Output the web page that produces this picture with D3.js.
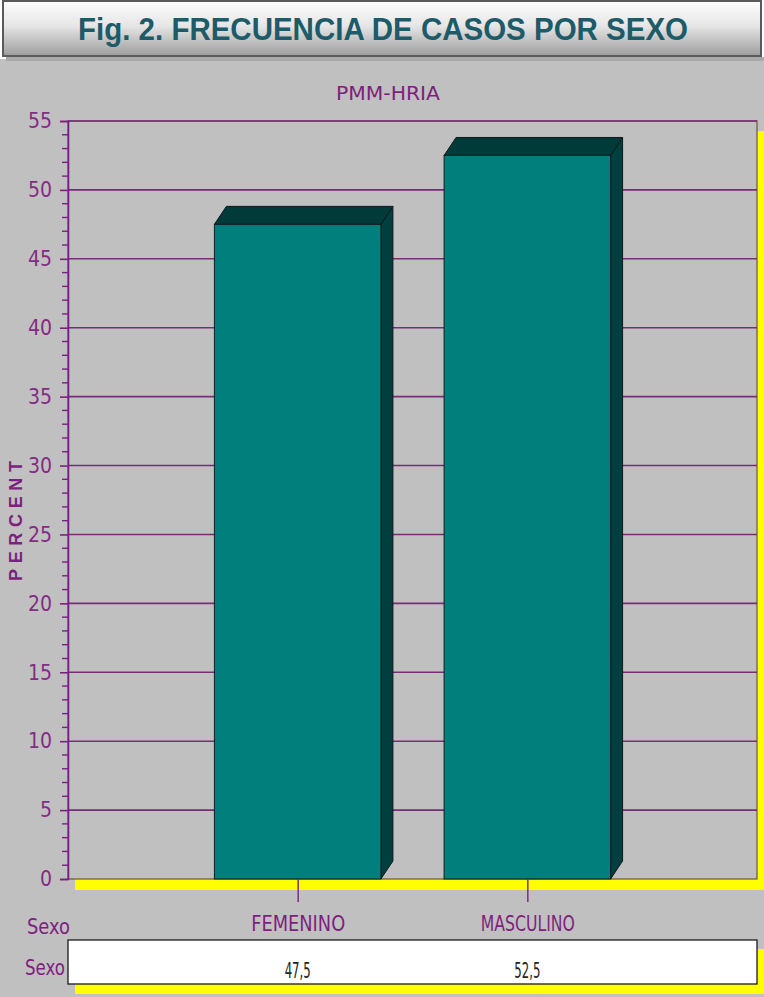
<!DOCTYPE html>
<html>
<head>
<meta charset="utf-8">
<script src="https://cdn.jsdelivr.net/npm/d3@7"></script>
<style>
  html, body { margin: 0; padding: 0; background: #ffffff; }
  svg { display: block; }
</style>
</head>
<body>
<div id="chart"></div>
<script>
// Frequency of cases by sex (percent)
const categories = ["FEMENINO", "MASCULINO"];
const percent = [47.5, 52.5];
const yTickValues = [0, 5, 10, 15, 20, 25, 30, 35, 40, 45, 50, 55];
const titleText = "Fig. 2. FRECUENCIA DE CASOS POR SEXO";
const subtitleText = "PMM-HRIA";
const yAxisTitle = "PERCENT";
const rowLabel = "Sexo";

const W = 764, H = 997;
const plot = { left: 68, right: 757, top: 121, bottom: 879 };
const depth = { dx: 12, dy: -18 };
const purple = "#7e1f7e";
const gridColor = "#762e76";
const yellow = "#ffff00";
const chartFont = "'DejaVu Sans', 'Liberation Sans', sans-serif";

const svg = d3.select("#chart").append("svg")
  .attr("width", W).attr("height", H);

// Header box with vertical gradient
const defs = svg.append("defs");
const grad = defs.append("linearGradient").attr("id", "hdr")
  .attr("x1", 0).attr("y1", 0).attr("x2", 0).attr("y2", 1);
grad.append("stop").attr("offset", "0%").attr("stop-color", "#fdfdfd");
grad.append("stop").attr("offset", "45%").attr("stop-color", "#e6e6e6");
grad.append("stop").attr("offset", "100%").attr("stop-color", "#9c9c9c");

// chart panel background
svg.append("rect").attr("x", 0).attr("y", 59).attr("width", W).attr("height", H - 59)
  .attr("fill", "#c0c0c0");
svg.append("rect").attr("x", 6).attr("y", 57).attr("width", W - 6).attr("height", 4)
  .attr("fill", "#a9a9a9");

svg.append("rect").attr("x", 3).attr("y", 1).attr("width", 758).attr("height", 55)
  .attr("fill", "url(#hdr)").attr("stroke", "#5a5a5a").attr("stroke-width", 2);

svg.append("text")
  .attr("x", 383).attr("y", 40)
  .attr("text-anchor", "middle")
  .attr("font-family", "'Liberation Sans', Arial, sans-serif")
  .attr("font-weight", "bold")
  .attr("font-size", 32)
  .attr("textLength", 610).attr("lengthAdjust", "spacingAndGlyphs")
  .attr("fill", "#1d5b68")
  .text(titleText);

// Subtitle
svg.append("text")
  .attr("x", 388).attr("y", 100)
  .attr("text-anchor", "middle")
  .attr("font-family", chartFont)
  .attr("font-size", 19)
  .attr("textLength", 104).attr("lengthAdjust", "spacingAndGlyphs")
  .attr("fill", purple)
  .text(subtitleText);

// Scales
const x = d3.scalePoint().domain(categories).range([plot.left, plot.right]).padding(1);
const y = d3.scaleLinear().domain([0, 55]).range([plot.bottom, plot.top]);
const barW = x.step() * 0.725;

// Plot frame shadow + frame
svg.append("rect")
  .attr("x", plot.left + 7).attr("y", plot.top + 10)
  .attr("width", plot.right - plot.left).attr("height", plot.bottom - plot.top + 1)
  .attr("fill", yellow);
svg.append("rect")
  .attr("x", plot.left).attr("y", plot.top)
  .attr("width", plot.right - plot.left).attr("height", plot.bottom - plot.top)
  .attr("fill", "#c0c0c0").attr("stroke", "#6e5236").attr("stroke-width", 1.2);

// Gridlines
svg.append("g").selectAll("line")
  .data(yTickValues.filter(d => d > 0))
  .join("line")
  .attr("x1", plot.left).attr("x2", plot.right)
  .attr("y1", d => y(d)).attr("y2", d => y(d))
  .attr("stroke", gridColor).attr("stroke-width", 1.6);

// Y axis with major and minor ticks
const yAxis = d3.axisLeft(y).tickValues(yTickValues).tickSize(8).tickPadding(8);
const gy = svg.append("g").attr("transform", `translate(${plot.left},0)`).call(yAxis);
gy.select(".domain").attr("stroke", purple).attr("stroke-width", 1.6);
gy.selectAll(".tick line").attr("stroke", purple).attr("stroke-width", 1.6);
gy.selectAll(".tick text")
  .attr("fill", "#862a86")
  .attr("font-family", chartFont)
  .attr("font-size", 21)
  .attr("font-stretch", "condensed");

const minor = d3.range(0, 56, 1).filter(d => d % 5 !== 0);
svg.append("g").selectAll("line")
  .data(minor)
  .join("line")
  .attr("x1", plot.left - 6).attr("x2", plot.left)
  .attr("y1", d => y(d)).attr("y2", d => y(d))
  .attr("stroke", purple).attr("stroke-width", 1.4);

// Y axis title
svg.append("text")
  .attr("transform", `translate(22,${(plot.top + plot.bottom) / 2 + 21}) rotate(-90)`)
  .attr("text-anchor", "middle")
  .attr("font-family", "'Liberation Sans', Arial, sans-serif")
  .attr("font-weight", "bold")
  .attr("font-size", 18)
  .attr("textLength", 120).attr("lengthAdjust", "spacing")
  .attr("fill", purple)
  .text(yAxisTitle);

// 3D bars
const bars = svg.append("g").selectAll("g")
  .data(categories.map((c, i) => ({ cat: c, value: percent[i] })))
  .join("g");

const y0 = y(0);
bars.append("polygon")
  .attr("points", d => {
    const x0 = x(d.cat) - barW / 2, yt = y(d.value), xr = x0 + barW;
    return [[xr, yt], [xr + depth.dx, yt + depth.dy], [xr + depth.dx, y0 + depth.dy], [xr, y0]].join(" ");
  })
  .attr("fill", "#003f3f").attr("stroke", "#101818").attr("stroke-width", 1);
bars.append("polygon")
  .attr("points", d => {
    const x0 = x(d.cat) - barW / 2, yt = y(d.value), xr = x0 + barW;
    return [[x0, yt], [x0 + depth.dx, yt + depth.dy], [xr + depth.dx, yt + depth.dy], [xr, yt]].join(" ");
  })
  .attr("fill", "#003b3a").attr("stroke", "#101818").attr("stroke-width", 1);
bars.append("rect")
  .attr("x", d => x(d.cat) - barW / 2)
  .attr("y", d => y(d.value))
  .attr("width", barW)
  .attr("height", d => y0 - y(d.value))
  .attr("fill", "#007f7d").attr("stroke", "#102020").attr("stroke-width", 1);

// Category axis
const xAxis = d3.axisBottom(x).tickSize(23).tickPadding(13);
const gx = svg.append("g").attr("transform", `translate(0,${y0})`).call(xAxis);
gx.select(".domain").remove();
gx.selectAll(".tick line").attr("stroke", purple).attr("stroke-width", 1.4);
gx.selectAll(".tick text")
  .attr("fill", purple)
  .attr("font-family", chartFont)
  .attr("font-size", 22)
  .attr("textLength", 94).attr("lengthAdjust", "spacingAndGlyphs");

svg.append("text")
  .attr("x", 27).attr("y", 934)
  .attr("font-family", chartFont).attr("font-size", 21)
  .attr("textLength", 43).attr("lengthAdjust", "spacingAndGlyphs")
  .attr("fill", purple).text(rowLabel);

// Data table row
const table = { left: 68, right: 757, top: 940, bottom: 984 };
svg.append("rect")
  .attr("x", table.left + 7).attr("y", table.top + 9)
  .attr("width", table.right - table.left).attr("height", table.bottom - table.top + 1)
  .attr("fill", yellow);
svg.append("rect")
  .attr("x", table.left).attr("y", table.top)
  .attr("width", table.right - table.left).attr("height", table.bottom - table.top)
  .attr("fill", "#ffffff").attr("stroke", "#1a1a1a").attr("stroke-width", 1.3);

svg.append("text")
  .attr("x", 25).attr("y", 975)
  .attr("font-family", chartFont).attr("font-size", 21)
  .attr("textLength", 40).attr("lengthAdjust", "spacingAndGlyphs")
  .attr("fill", purple).text(rowLabel);

const fmt = d3.formatLocale({ decimal: ",", thousands: ".", grouping: [3], currency: ["", ""] }).format(".1f");
svg.append("g").selectAll("text")
  .data(categories.map((c, i) => ({ cat: c, value: percent[i] })))
  .join("text")
  .attr("x", d => x(d.cat))
  .attr("y", 978)
  .attr("text-anchor", "middle")
  .attr("font-family", chartFont)
  .attr("font-size", 22)
  .attr("font-stretch", "condensed")
  .attr("textLength", 26).attr("lengthAdjust", "spacingAndGlyphs")
  .attr("fill", "#222222")
  .text(d => fmt(d.value));
</script>
</body>
</html>
